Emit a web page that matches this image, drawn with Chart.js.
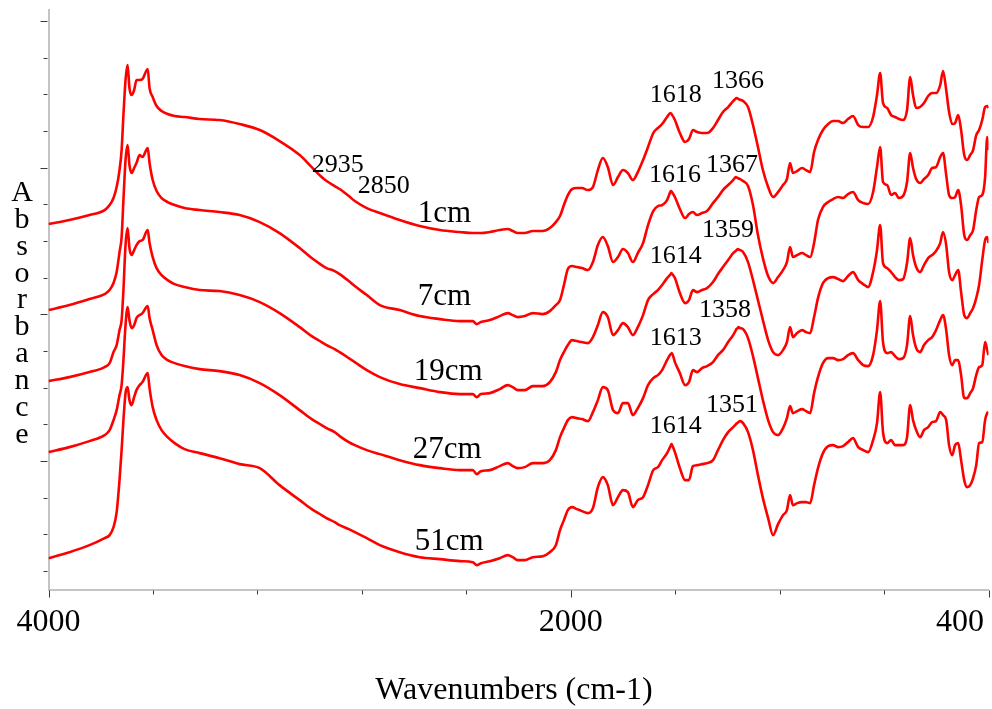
<!DOCTYPE html>
<html>
<head>
<meta charset="utf-8">
<script src="https://cdn.jsdelivr.net/npm/chart.js@4/dist/chart.umd.min.js"></script>
<style>
  html, body { margin: 0; padding: 0; background: #ffffff; }
  #wrap { width: 992px; height: 709px; }
</style>
</head>
<body>
<div id="wrap"><canvas id="ftir" width="992" height="709"></canvas></div>
<script>
// Wavenumber grid (cm-1), shared by all depth profiles
const wavenumbers = [
  4000,3920,3843,3785,3766,3751,3739,3728,3720,3713,
  3705,3697,3690,3682,3672,3663,3651,3640,3620,3613,
  3601,3586,3567,3544,3517,3479,3421,3345,3268,3191,
  3115,3038,2992,2954,2935,2904,2885,2850,2827,2781,
  2731,2655,2578,2501,2425,2375,2360,2344,2310,2272,
  2241,2222,2203,2176,2145,2107,2080,2057,2041,2026,
  2011,1995,1976,1957,1934,1915,1896,1877,1858,1838,
  1819,1800,1781,1762,1743,1723,1704,1684,1666,1650,
  1631,1618,1616,1614,1613,1601,1582,1562,1547,1532,
  1516,1497,1478,1455,1436,1417,1397,1378,1367,1366,
  1359,1358,1351,1340,1321,1302,1283,1264,1244,1225,
  1206,1187,1172,1160,1149,1133,1114,1099,1083,1068,
  1053,1034,1014,995,976,957,938,919,899,880,
  861,842,827,815,804,788,773,758,743,727,
  712,700,689,677,662,647,631,616,601,585,
  574,562,551,539,528,516,505,493,482,470,
  459,447,436,424,413,405,400
];

// Absorbance (stacked, offset) for each sampling depth
const abs1cm = [
  1.041,1.053,1.068,1.083,1.098,1.119,1.152,1.203,1.263,1.368,
  1.473,1.518,1.449,1.428,1.443,1.473,1.473,1.476,1.506,1.449,
  1.422,1.395,1.380,1.371,1.365,1.362,1.356,1.353,1.341,1.323,
  1.290,1.248,1.212,1.182,1.170,1.155,1.146,1.125,1.110,1.089,
  1.074,1.053,1.035,1.023,1.017,1.014,1.014,1.014,1.017,1.023,
  1.026,1.020,1.014,1.014,1.020,1.020,1.029,1.047,1.065,1.098,
  1.128,1.146,1.149,1.149,1.143,1.152,1.203,1.239,1.212,1.158,
  1.182,1.203,1.194,1.173,1.197,1.233,1.272,1.314,1.329,1.341,
  1.362,1.374,1.373,1.371,1.370,1.353,1.314,1.287,1.296,1.323,
  1.317,1.314,1.314,1.329,1.353,1.377,1.392,1.410,1.418,1.419,
  1.417,1.416,1.414,1.410,1.392,1.338,1.272,1.203,1.152,1.122,
  1.137,1.158,1.176,1.224,1.194,1.200,1.209,1.203,1.197,1.257,
  1.293,1.323,1.341,1.350,1.350,1.344,1.356,1.365,1.338,1.332,
  1.332,1.362,1.428,1.494,1.404,1.389,1.368,1.362,1.356,1.353,
  1.383,1.482,1.428,1.389,1.392,1.404,1.425,1.434,1.434,1.458,
  1.500,1.443,1.377,1.341,1.344,1.368,1.323,1.248,1.233,1.248,
  1.263,1.308,1.323,1.353,1.392,1.395,1.389
];
const abs7cm = [
  0.783,0.798,0.816,0.831,0.843,0.864,0.897,0.957,1.002,1.113,
  1.233,1.278,1.218,1.194,1.209,1.224,1.248,1.242,1.269,1.224,
  1.173,1.140,1.119,1.107,1.098,1.089,1.083,1.077,1.068,1.047,
  1.014,0.969,0.939,0.918,0.909,0.900,0.891,0.870,0.855,0.828,
  0.798,0.783,0.765,0.756,0.750,0.750,0.741,0.747,0.753,0.765,
  0.774,0.768,0.762,0.765,0.774,0.771,0.780,0.798,0.813,0.858,
  0.906,0.915,0.912,0.909,0.903,0.927,0.978,1.002,0.975,0.927,
  0.942,0.966,0.954,0.927,0.954,0.984,1.038,1.080,1.095,1.098,
  1.113,1.138,1.140,1.139,1.138,1.122,1.086,1.059,1.071,1.077,
  1.068,1.074,1.080,1.104,1.122,1.143,1.158,1.173,1.182,1.181,
  1.179,1.178,1.176,1.170,1.155,1.098,1.008,0.939,0.885,0.864,
  0.882,0.903,0.927,0.972,0.942,0.948,0.954,0.948,0.942,0.984,
  1.053,1.092,1.107,1.116,1.122,1.119,1.131,1.137,1.113,1.104,
  1.101,1.137,1.212,1.272,1.167,1.158,1.128,1.134,1.119,1.125,
  1.167,1.254,1.209,1.176,1.164,1.176,1.188,1.209,1.212,1.242,
  1.254,1.188,1.128,1.119,1.122,1.143,1.098,1.008,0.993,1.008,
  1.023,1.083,1.122,1.128,1.182,1.302,1.263
];
const abs19cm = [
  0.570,0.582,0.597,0.612,0.624,0.657,0.678,0.723,0.753,0.843,
  0.978,1.029,0.969,0.948,0.963,0.978,0.990,0.993,1.023,0.984,
  0.942,0.909,0.888,0.873,0.861,0.852,0.843,0.840,0.828,0.807,
  0.774,0.732,0.705,0.687,0.678,0.666,0.657,0.639,0.627,0.603,
  0.582,0.561,0.549,0.537,0.531,0.531,0.522,0.531,0.534,0.546,
  0.558,0.552,0.543,0.543,0.555,0.555,0.567,0.597,0.633,0.657,
  0.678,0.693,0.690,0.687,0.684,0.702,0.738,0.777,0.762,0.708,
  0.723,0.744,0.732,0.708,0.732,0.768,0.813,0.831,0.843,0.858,
  0.879,0.890,0.892,0.894,0.893,0.879,0.834,0.804,0.813,0.843,
  0.837,0.843,0.849,0.867,0.891,0.912,0.933,0.954,0.961,0.962,
  0.966,0.965,0.963,0.957,0.927,0.873,0.813,0.753,0.693,0.657,
  0.648,0.663,0.687,0.732,0.702,0.714,0.723,0.717,0.714,0.762,
  0.819,0.864,0.879,0.882,0.876,0.870,0.885,0.897,0.873,0.861,
  0.852,0.897,0.963,1.038,0.924,0.909,0.897,0.882,0.873,0.876,
  0.924,0.999,0.948,0.912,0.897,0.918,0.939,0.948,0.960,0.984,
  1.017,0.978,0.897,0.873,0.888,0.903,0.837,0.768,0.759,0.774,
  0.789,0.819,0.858,0.933,0.993,1.002,0.984
];
const abs27cm = [
  0.357,0.372,0.390,0.408,0.423,0.453,0.483,0.528,0.558,0.633,
  0.738,0.792,0.753,0.729,0.738,0.759,0.768,0.774,0.795,0.759,
  0.723,0.678,0.648,0.633,0.624,0.615,0.606,0.600,0.588,0.564,
  0.528,0.483,0.456,0.438,0.429,0.417,0.405,0.387,0.378,0.363,
  0.351,0.333,0.318,0.309,0.303,0.303,0.291,0.300,0.303,0.315,
  0.324,0.315,0.309,0.312,0.324,0.324,0.333,0.363,0.402,0.429,
  0.453,0.462,0.459,0.456,0.450,0.477,0.513,0.552,0.543,0.483,
  0.474,0.504,0.504,0.468,0.489,0.519,0.558,0.579,0.588,0.603,
  0.633,0.650,0.651,0.652,0.654,0.627,0.594,0.558,0.567,0.603,
  0.597,0.609,0.615,0.627,0.648,0.663,0.687,0.708,0.724,0.726,
  0.730,0.732,0.729,0.726,0.699,0.645,0.579,0.513,0.453,0.417,
  0.408,0.429,0.459,0.495,0.474,0.480,0.486,0.480,0.474,0.534,
  0.582,0.624,0.639,0.639,0.633,0.636,0.648,0.654,0.633,0.618,
  0.615,0.648,0.723,0.810,0.687,0.654,0.657,0.645,0.636,0.639,
  0.678,0.765,0.708,0.669,0.657,0.678,0.693,0.702,0.723,0.753,
  0.768,0.723,0.648,0.618,0.633,0.633,0.588,0.519,0.519,0.534,
  0.549,0.588,0.612,0.618,0.687,0.663,0.648
];
const abs51cm = [
  0.039,0.057,0.078,0.099,0.108,0.132,0.177,0.273,0.363,0.453,
  0.534,0.552,0.513,0.498,0.522,0.543,0.558,0.567,0.594,0.549,
  0.492,0.453,0.423,0.402,0.384,0.366,0.354,0.339,0.321,0.309,
  0.258,0.213,0.186,0.168,0.159,0.147,0.138,0.126,0.117,0.099,
  0.078,0.057,0.042,0.036,0.030,0.027,0.018,0.024,0.030,0.039,
  0.048,0.042,0.033,0.033,0.042,0.045,0.057,0.078,0.123,0.153,
  0.183,0.192,0.186,0.180,0.174,0.189,0.252,0.282,0.258,0.198,
  0.222,0.243,0.237,0.192,0.213,0.222,0.258,0.303,0.312,0.333,
  0.354,0.375,0.378,0.381,0.380,0.357,0.309,0.273,0.273,0.315,
  0.318,0.321,0.324,0.333,0.363,0.393,0.417,0.432,0.441,0.442,
  0.446,0.447,0.450,0.444,0.417,0.363,0.288,0.219,0.159,0.108,
  0.141,0.168,0.183,0.228,0.198,0.204,0.207,0.207,0.204,0.258,
  0.309,0.354,0.375,0.378,0.372,0.375,0.387,0.399,0.372,0.363,
  0.357,0.393,0.444,0.537,0.417,0.384,0.393,0.378,0.378,0.378,
  0.402,0.498,0.453,0.423,0.402,0.423,0.432,0.447,0.450,0.477,
  0.468,0.453,0.378,0.348,0.378,0.384,0.333,0.273,0.252,0.258,
  0.279,0.318,0.384,0.387,0.453,0.474,0.477
];

const depthNames = ['1cm', '7cm', '19cm', '27cm', '51cm'];
const depthSeries = [abs1cm, abs7cm, abs19cm, abs27cm, abs51cm];

// Axis ticks
const xTickValues = [4000, 3600, 3200, 2800, 2400, 2000, 1600, 1200, 800, 400];
const xTickLabels = [4000, 2000, 400];
const yTickValues = [0, 0.11, 0.22, 0.33, 0.44, 0.55, 0.66, 0.77, 0.88, 0.99, 1.10, 1.21, 1.32, 1.43, 1.54, 1.65];
const yMajorTicks = [0.33, 0.77, 1.21, 1.65];

// Band assignments written on the spectra
const bandTexts = ['2935', '2850', '1618', '1366', '1616', '1367', '1614', '1359', '1613', '1358', '1614', '1351'];

// Text placement in data units (left edge wavenumber, baseline absorbance)
const bandAnchors = [
  [2992, 1.197], [2816, 1.134], [1697, 1.407], [1459, 1.449],
  [1700, 1.167], [1482, 1.197], [1697, 0.924], [1497, 1.002],
  [1697, 0.678], [1509, 0.762], [1697, 0.414], [1482, 0.477]
];
const depthAnchors = [[2586, 1.047], [2586, 0.798], [2601, 0.573], [2605, 0.339], [2597, 0.063]];

const SERIF = '"Liberation Serif", "Times New Roman", serif';
Chart.defaults.font.family = SERIF;

const decorations = {
  id: 'decorations',
  afterDraw(chart) {
    const { ctx, chartArea: ca, scales: { x, y } } = chart;
    ctx.save();

    // tick marks
    ctx.strokeStyle = '#3a3a3a';
    ctx.lineWidth = 1;
    x.ticks.forEach(t => {
      const px = Math.round(x.getPixelForValue(t.value)) + 0.5;
      const len = xTickLabels.includes(t.value) ? 7 : 4;
      ctx.beginPath();
      ctx.moveTo(px, ca.bottom + 1);
      ctx.lineTo(px, ca.bottom + 1 + len);
      ctx.stroke();
    });
    y.ticks.forEach(t => {
      const py = Math.round(y.getPixelForValue(t.value)) + 0.5;
      const len = yMajorTicks.some(m => Math.abs(m - t.value) < 1e-6) ? 7 : 4;
      ctx.beginPath();
      ctx.moveTo(ca.left - 1, py);
      ctx.lineTo(ca.left - 1 - len, py);
      ctx.stroke();
    });

    // x tick labels
    ctx.fillStyle = '#000000';
    ctx.textBaseline = 'alphabetic';
    ctx.textAlign = 'center';
    ctx.font = '32px ' + SERIF;
    xTickLabels.forEach(v => {
      const txt = String(v);
      const w = ctx.measureText(txt).width;
      const px = Math.min(x.getPixelForValue(v), chart.width - 8 - w / 2);
      ctx.fillText(txt, px, ca.bottom + 41);
    });

    // x axis title
    ctx.fillText('Wavenumbers (cm-1)', 514, 699);

    // y axis title, one letter per line
    ctx.font = '30px ' + SERIF;
    Array.from('Absorbance').forEach((ch, i) => {
      ctx.fillText(ch, 22, 201 + i * 26.85);
    });

    // band positions
    ctx.textAlign = 'left';
    ctx.font = '26px ' + SERIF;
    bandTexts.forEach((txt, i) => {
      const [wn, a] = bandAnchors[i];
      ctx.fillText(txt, x.getPixelForValue(wn), y.getPixelForValue(a));
    });

    // depth labels
    ctx.font = '31px ' + SERIF;
    depthNames.forEach((txt, i) => {
      const [wn, a] = depthAnchors[i];
      ctx.fillText(txt, x.getPixelForValue(wn), y.getPixelForValue(a));
    });

    ctx.restore();
  }
};

const datasets = depthNames.map((name, k) => ({
  label: name,
  data: wavenumbers.map((w, i) => ({ x: w, y: depthSeries[k][i] })),
  borderColor: '#ff0000',
  backgroundColor: '#ff0000',
  borderWidth: 2.6,
  pointRadius: 0,
  fill: false,
  cubicInterpolationMode: 'monotone'
}));

const axisBorder = { display: true, color: '#c4c4c4', width: 2 };

new Chart(document.getElementById('ftir'), {
  type: 'line',
  data: { datasets },
  options: {
    responsive: false,
    animation: false,
    devicePixelRatio: 1,
    layout: { padding: { left: 48.5, right: 3.5, top: 10, bottom: 119.5 } },
    plugins: { legend: { display: false }, tooltip: { enabled: false } },
    scales: {
      x: {
        type: 'linear',
        reverse: true,
        min: 400,
        max: 4000,
        afterBuildTicks: s => { s.ticks = xTickValues.map(v => ({ value: v })); },
        ticks: { display: false },
        grid: { display: false, drawTicks: false },
        border: axisBorder
      },
      y: {
        type: 'linear',
        min: -0.055,
        max: 1.683,
        afterBuildTicks: s => { s.ticks = yTickValues.map(v => ({ value: v })); },
        ticks: { display: false },
        grid: { display: false, drawTicks: false },
        border: axisBorder
      }
    }
  },
  plugins: [decorations]
});
</script>
</body>
</html>
